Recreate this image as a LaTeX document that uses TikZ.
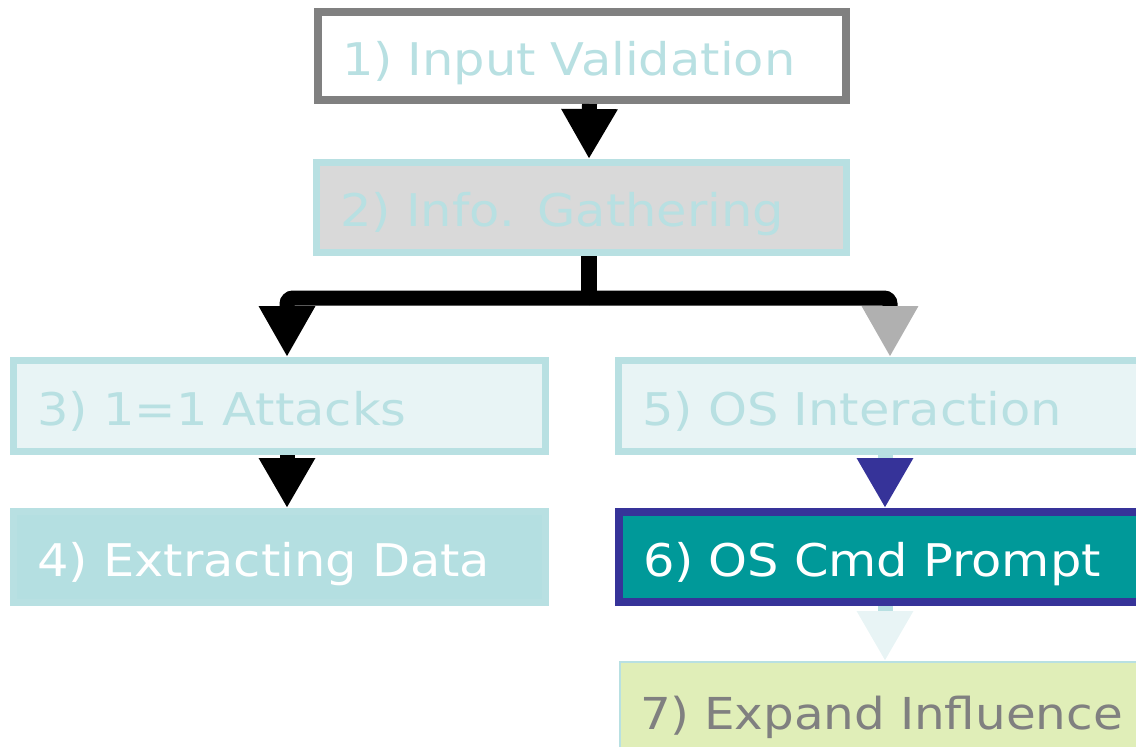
\documentclass[tikz,border=0pt]{standalone}
\usepackage{fontspec}
\newfontfamily\boxfont[FakeStretch=1.1]{DejaVu Sans}
\usetikzlibrary{arrows.meta}
\definecolor{lcyan}{HTML}{B8E0E2}
\definecolor{paleCyan}{HTML}{E8F4F5}
\definecolor{midCyan}{HTML}{B4DFE1}
\definecolor{gborder}{HTML}{808080}
\definecolor{gfill}{HTML}{D9D9D9}
\definecolor{teal6}{HTML}{009999}
\definecolor{navy6}{HTML}{363399}
\definecolor{lgreen}{HTML}{E0EEB8}
\definecolor{tipgray}{HTML}{B0B0B0}
\begin{document}
\begin{tikzpicture}[x=1pt,y=-1pt,
  box/.style={rectangle, line width=7pt, inner xsep=24pt, inner ysep=0pt, align=left,
    font=\boxfont\fontsize{45}{54}\selectfont, text height=40pt, text depth=2pt},
  conn/.style={line width=15pt, -{Triangle[length=50pt,width=53pt,color=#1]}},
  conn/.default=black,
  bar/.style={line width=15pt, rounded corners=6pt, -{Triangle[length=51pt,width=53pt,color=#1]}},
  bar/.default=black
]
\useasboundingbox (0,0) rectangle (1136,747);
\clip (0,0) rectangle (1136,747);

\node[box, draw=gborder, line width=8pt, fill=white, text=lcyan,
      minimum height=88pt, text width=480pt] (b1) at (582,56) {1) Input Validation};
\node[box, draw=lcyan, fill=gfill, text=lcyan,
      minimum height=90pt, text width=482pt] (b2) at (581.5,207.5) {2) Info. Gathering};
\node[box, draw=lcyan, fill=paleCyan, text=lcyan,
      minimum height=91pt, text width=484pt] (b3) at (279.5,406) {3) 1=1 Attacks};
\node[box, draw=lcyan, fill=midCyan, text=white,
      minimum height=91pt, text width=484pt] (b4) at (279.5,557) {4) Extracting Data};
\node[box, draw=lcyan, fill=paleCyan, text=lcyan,
      minimum height=91pt, text width=485pt] (b5) at (885,406) {5) OS Interaction};
\node[box, draw=navy6, line width=8pt, fill=teal6, text=white,
      minimum height=90pt, text width=484pt] (b6) at (885,557) {6) OS Cmd Prompt};
\node[box, draw=lcyan, line width=2pt, fill=lgreen, text=gborder, inner xsep=20pt,
      font=\boxfont\fontsize{44}{54}\selectfont,
      minimum height=96pt, text width=530pt] (b7) at (905,710) {7) Expand Influence};

% connectors
\draw[conn] ([xshift=7.5pt]b1.south) -- ([xshift=7.5pt]b2.north);
\coordinate (j) at ([yshift=-42pt,xshift=7.5pt]b2.south);
\draw[line width=16pt] ([xshift=7.5pt]b2.south) -- (j);
\draw[bar] (j) -| ([xshift=7.5pt]b3.north);
\draw[bar=tipgray] (j) -| ([xshift=5pt]b5.north);
\draw[conn] ([xshift=7.5pt]b3.south) -- ([xshift=7.5pt]b4.north);
\draw[conn=navy6, draw=lcyan] (b5.south) -- (b6.north);
\draw[conn=paleCyan, draw=lcyan] (b6.south) -- (b6.south |- b7.north);
\end{tikzpicture}
\end{document}
